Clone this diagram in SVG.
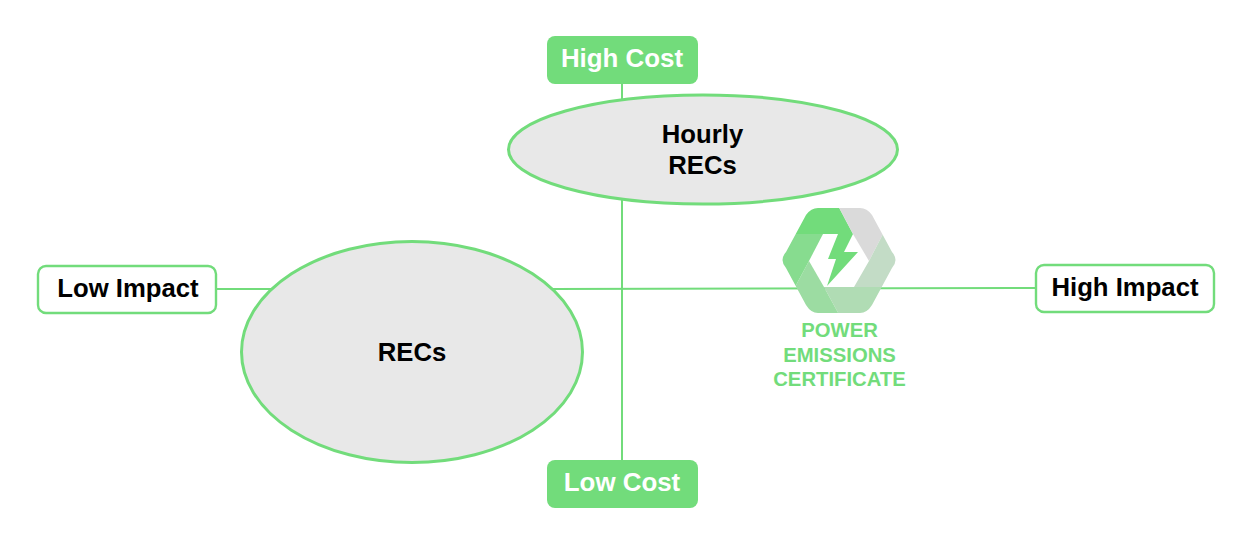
<svg xmlns="http://www.w3.org/2000/svg" width="1249" height="533" viewBox="0 0 1249 533">
<style>
text{font-family:"Liberation Sans",Arial,sans-serif;font-weight:700;text-anchor:middle}
.lbl{font-size:25.7px;fill:#000}
.inv{font-size:25.9px;fill:#fff}
.in{font-size:25.7px;fill:#000}
.cert{font-size:20.3px;fill:#72dc7b}
.fillbox{fill:#72dc7b}
.outbox{fill:#fff;stroke:#72dc7b;stroke-width:2.4}
.ell{fill:#e8e8e8;stroke:#72dc7b;stroke-width:3}
.conn{stroke:#72dc7b;stroke-width:2;fill:none}
</style>
<defs>
<clipPath id="hexclip"><path d="M818 208H860Q867 208 872 215L892 252Q899 260 892 268L872 305Q867 313 860 313H818Q811 313 806 305L786 268Q779 260 786 252L806 215Q811 208 818 208Z"/></clipPath>
</defs>
<rect width="1249" height="533" fill="#fff"/>
<g id="connectors">
<line class="conn" x1="622" y1="83" x2="622" y2="461"/>
<line class="conn" x1="216" y1="289" x2="275" y2="289"/>
<line class="conn" x1="553" y1="289" x2="1036" y2="288"/>
</g>
<g id="high-cost"><rect class="fillbox" x="547" y="36" width="151" height="48" rx="8"/><text class="inv" x="622" y="67">High Cost</text></g>
<g id="low-cost"><rect class="fillbox" x="547" y="460" width="151" height="48" rx="8"/><text class="inv" x="622" y="491">Low Cost</text></g>
<g id="low-impact"><rect class="outbox" x="38" y="266" width="178" height="47" rx="8"/><text class="lbl" x="128" y="297">Low Impact</text></g>
<g id="high-impact"><rect class="outbox" x="1036" y="265" width="178" height="47" rx="8"/><text class="lbl" x="1125" y="296">High Impact</text></g>
<g id="hourly-recs"><ellipse class="ell" cx="703" cy="149.500" rx="194.500" ry="54.500"/><text class="in" x="702.500" y="143">Hourly</text><text class="in" x="702.500" y="174">RECs</text></g>
<g id="recs"><ellipse class="ell" cx="412" cy="352" rx="170.500" ry="110.500"/><text class="in" x="412" y="361">RECs</text></g>
<g id="power-emissions-certificate">
<g clip-path="url(#hexclip)">
<polygon fill="#72dc7b" points="835,200 853,234 795,234 800,200"/>
<polygon fill="#dadada" points="835,200 900,200 883,234 869,261 853,234"/>
<polygon fill="#c3dcc6" points="883,234 905,260 882,287 854,287 869,261"/>
<polygon fill="#b0dcb4" points="882,287 882,320 842,320 824,287"/>
<polygon fill="#9cdca2" points="842,320 790,320 795,287 809,261 824,287"/>
<polygon fill="#87dc8f" points="795,287 775,260 795,234 823,234 809,261"/>
</g>
<polygon fill="#72dc7b" points="838,234 853,234 844,252 858,252 827,286 836,259 828,259"/>
<text class="cert" x="839.500" y="337">POWER</text>
<text class="cert" x="839.500" y="362">EMISSIONS</text>
<text class="cert" x="839.500" y="386">CERTIFICATE</text>
</g>
</svg>
